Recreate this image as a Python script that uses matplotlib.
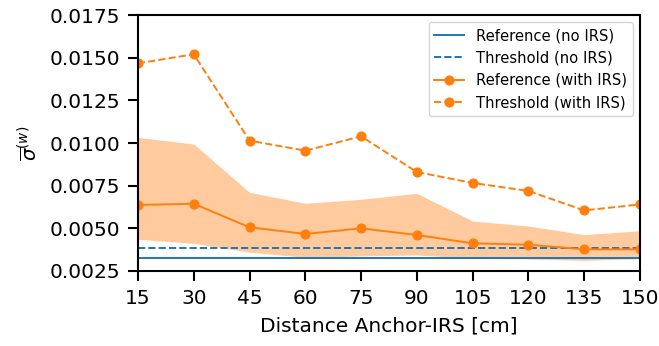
import numpy as np
import matplotlib
matplotlib.use("Agg")
import matplotlib.pyplot as plt

# distances between anchor and IRS [cm]
distances = [15, 30, 45, 60, 75, 90, 105, 120, 135, 150]

ref_no_irs = 0.00324
thr_no_irs = 0.00385

ref_with_irs = [0.00637, 0.00644, 0.00506, 0.00467, 0.00500,
                0.00461, 0.00412, 0.00404, 0.00377, 0.00377]
thr_with_irs = [0.01467, 0.01520, 0.01014, 0.00955, 0.01039,
                0.00830, 0.00766, 0.00719, 0.00605, 0.00640]
band_low = [0.00436, 0.00412, 0.00360, 0.00330, 0.00338,
            0.00344, 0.00324, 0.00320, 0.00312, 0.00322]
band_high = [0.01033, 0.00994, 0.00711, 0.00647, 0.00670,
             0.00705, 0.00543, 0.00514, 0.00463, 0.00486]

fig = plt.figure(figsize=(6.59, 3.46), dpi=100)
ax = fig.add_axes([0.2094, 0.2168, 0.7616, 0.7398])

x = np.array(distances)
ax.fill_between(x, band_low, band_high, color='C1', alpha=0.4, linewidth=0)
ax.plot(x, np.full_like(x, ref_no_irs, dtype=float), '-', color='C0',
        lw=1.4, label='Reference (no IRS)')
ax.plot(x, np.full_like(x, thr_no_irs, dtype=float), '--', color='C0',
        lw=1.4, label='Threshold (no IRS)')
ax.plot(x, ref_with_irs, '-o', color='C1', lw=1.4, ms=6.3,
        label='Reference (with IRS)')
ax.plot(x, thr_with_irs, '--o', color='C1', lw=1.4, ms=6.3,
        label='Threshold (with IRS)')

ax.set_xlim(15, 150)
ax.set_ylim(0.0025, 0.0175)
ax.set_xticks(distances)
yt = np.arange(0.0025, 0.0176, 0.0025)
ax.set_yticks(yt)
ax.set_yticklabels([f'{v:.4f}' for v in yt])
ax.tick_params(labelsize=14.5, length=7, width=1.5)
ax.tick_params(axis='x', pad=6)
ax.tick_params(axis='y', pad=6)
for s in ax.spines.values():
    s.set_linewidth(1.5)

ax.set_xlabel('Distance Anchor-IRS [cm]', fontsize=14.5, labelpad=6)
ax.set_ylabel(r'$\overline{\sigma}^{(w)}$', fontsize=14, labelpad=6)
ax.legend(loc='upper right', fontsize=10.6)

fig.savefig('out.png', dpi=100)
